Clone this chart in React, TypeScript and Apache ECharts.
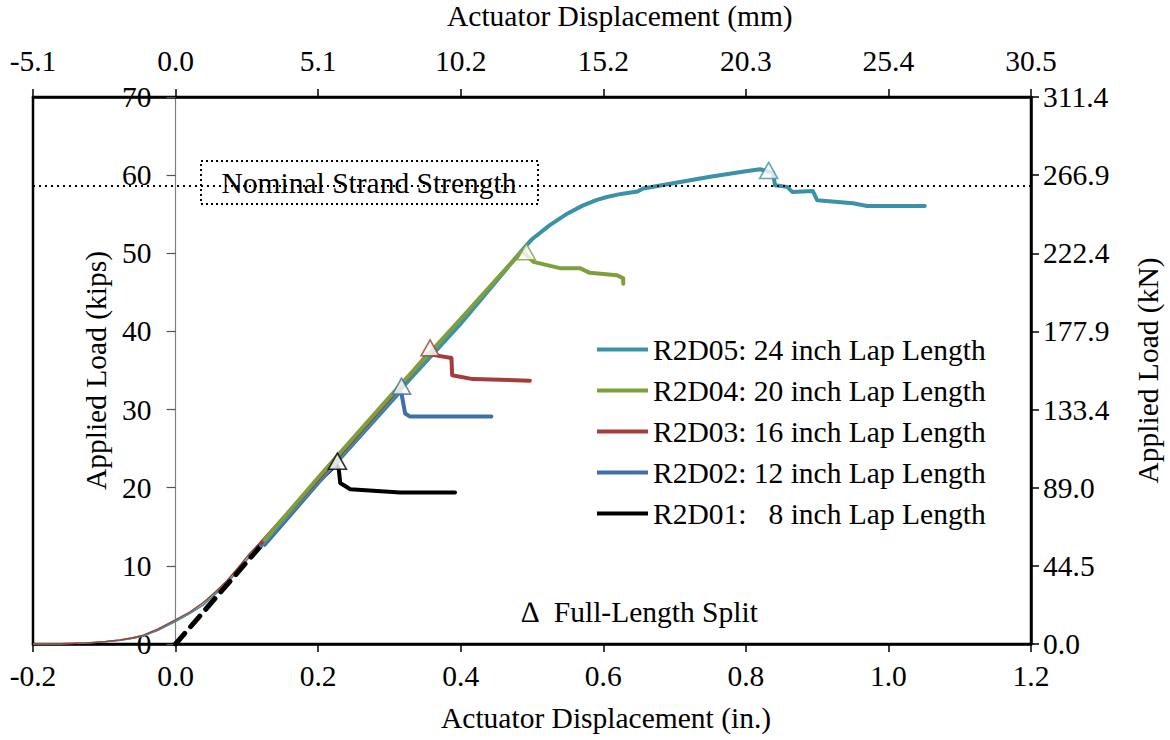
import React, { useEffect, useRef } from "react";
import * as echarts from "echarts";

// ---- data (displacement in inches, load in kips) ----
const COLOR_R2D05 = "#3b92a8";
const COLOR_R2D04 = "#7f9f3e";
const COLOR_R2D03 = "#a33c3a";
const COLOR_R2D02 = "#3f6ea8";
const COLOR_R2D01 = "#000000";

const NAME_R2D05 = "R2D05: 24 inch Lap Length";
const NAME_R2D04 = "R2D04: 20 inch Lap Length";
const NAME_R2D03 = "R2D03: 16 inch Lap Length";
const NAME_R2D02 = "R2D02: 12 inch Lap Length";
const NAME_R2D01 = "R2D01:   8 inch Lap Length";

// initial (seating) toe of the curves, drawn thin
const toeUpper = [
  [-0.2, 0], [-0.16, 0.03], [-0.125, 0.14], [-0.1, 0.3], [-0.078, 0.52],
  [-0.06, 0.8], [-0.045, 1.15], [-0.025, 1.9], [0, 3.1], [0.02, 4.1],
  [0.039, 5.3], [0.055, 6.6], [0.072, 8.1], [0.088, 9.8], [0.104, 11.6],
  [0.122, 13.3],
];
const toeLower = [
  [-0.2, 0], [-0.16, 0.02], [-0.125, 0.11], [-0.1, 0.26], [-0.078, 0.46],
  [-0.06, 0.72], [-0.045, 1.05], [-0.025, 1.75], [0, 2.9], [0.02, 3.9],
  [0.039, 5.0], [0.055, 6.3], [0.072, 7.8], [0.088, 9.4], [0.104, 11.2],
  [0.125, 13.1],
];

// linear extrapolation to origin for R2D01
const r2d01Extrap = [[0, 0], [0.118, 12.4]];

const r2d05 = [
  [0.12, 12.6], [0.2, 20.8], [0.3, 31.0], [0.4, 41.0], [0.49, 50.8],
  [0.5, 51.8], [0.525, 53.6], [0.55, 55.1], [0.571, 56.1], [0.59, 56.8],
  [0.605, 57.2], [0.625, 57.6], [0.641, 57.8], [0.648, 57.9], [0.656, 58.3],
  [0.7, 59.0], [0.75, 59.8], [0.8, 60.5], [0.82, 60.75], [0.838, 60.3],
  [0.841, 58.7], [0.858, 58.5], [0.865, 57.85], [0.894, 57.97], [0.9, 56.8],
  [0.95, 56.4], [0.97, 56.05], [1.051, 56.05],
];
const r2d04 = [
  [0.125, 13.3], [0.2, 21.3], [0.3, 31.6], [0.4, 41.6], [0.486, 50.3],
  [0.502, 48.9], [0.539, 48.1], [0.567, 48.1], [0.581, 47.5], [0.619, 47.2],
  [0.628, 46.8], [0.628, 46.1],
];
const r2d03 = [
  [0.12, 12.9], [0.2, 21.1], [0.3, 31.4], [0.354, 37.1], [0.361, 37.0],
  [0.387, 36.6], [0.388, 34.4], [0.417, 33.9], [0.497, 33.7],
];
const r2d02 = [
  [0.125, 12.7], [0.2, 20.6], [0.314, 32.2], [0.317, 32.0], [0.322, 29.5],
  [0.329, 29.1], [0.443, 29.1],
];
const r2d01 = [
  [0.118, 12.4], [0.2, 20.8], [0.226, 23.0], [0.229, 22.3], [0.231, 20.6],
  [0.245, 19.8], [0.315, 19.4], [0.392, 19.4],
];

// full-length split markers
const splitR2D05 = [[0.832, 60.6]];
const splitR2D04 = [[0.492, 50.2]];
const splitR2D03 = [[0.357, 37.9]];
const splitR2D02 = [[0.317, 33.0]];
const splitR2D01 = [[0.227, 23.4]];

const NOMINAL_STRENGTH = 58.6; // kips

const X_MIN = -0.2, X_MAX = 1.2, X_INT = 0.2;
const Y_MIN = 0, Y_MAX = 70, Y_INT = 10;
const IN_TO_MM = 25.4;
const KIP_TO_KN = 4.448;

const FONT = "'Liberation Serif', 'Times New Roman', serif";
const FS = 29.5;

const GRID_LEFT = 33, GRID_RIGHT = 139, GRID_TOP = 97, GRID_BOTTOM = 96;
const CHART_W = 1170;

export default function App() {
  const ref = useRef<HTMLDivElement>(null);

  useEffect(() => {
    const chart = echarts.init(ref.current!, null, { renderer: "svg" });

    const thick = (name: string, color: string, data: number[][], z = 3) => ({
      name, type: "line", data, color, showSymbol: false, symbol: "none", z,
      lineStyle: { color, width: 4, cap: "round", join: "round" },
    });
    const thin = (name: string, color: string, data: number[][]) => ({
      name, type: "line", data, color, showSymbol: false, symbol: "none", z: 2,
      lineStyle: { color, width: 1.3, join: "round" },
    });
    const split = (name: string, color: string, data: number[][]) => ({
      name, type: "scatter", data, symbol: "triangle", symbolSize: [18, 16], z: 5,
      itemStyle: { color: "#ffffff", borderColor: color, borderWidth: 1.6 },
    });

    const axisText = { color: "#000", fontFamily: FONT, fontSize: FS };

    // left axis sits on x = 0 (moved inward from the grid's left edge)
    const plotW = CHART_W - GRID_LEFT - GRID_RIGHT;
    const zeroOffset = (plotW * (0 - X_MIN)) / (X_MAX - X_MIN);

    chart.setOption({
      animation: false,
      backgroundColor: "#ffffff",
      textStyle: { fontFamily: FONT },
      grid: {
        left: GRID_LEFT, right: GRID_RIGHT, top: GRID_TOP, bottom: GRID_BOTTOM,
        containLabel: false, outerBoundsMode: "none",
        show: true, borderColor: "#000", borderWidth: 2.5, backgroundColor: "transparent",
      },
      xAxis: [
        {
          type: "value", position: "bottom", min: X_MIN, max: X_MAX, interval: X_INT,
          axisLine: { show: true, onZero: false, lineStyle: { color: "#000", width: 2.5 } },
          axisTick: { show: true, inside: false, length: 8, lineStyle: { color: "#000", width: 1.5 } },
          axisLabel: { ...axisText, margin: 17, formatter: (v: number) => (Math.abs(v) < 1e-9 ? 0 : v).toFixed(1) },
          splitLine: { show: false },
        },
        {
          type: "value", position: "top",
          min: X_MIN * IN_TO_MM, max: X_MAX * IN_TO_MM, interval: X_INT * IN_TO_MM,
          axisLine: { show: true, onZero: false, lineStyle: { color: "#000", width: 2.5 } },
          axisTick: { show: true, inside: false, length: 8, lineStyle: { color: "#000", width: 1.5 } },
          axisLabel: { ...axisText, margin: 21, formatter: (v: number) => (Math.abs(v) < 1e-9 ? 0 : v).toFixed(1) },
          splitLine: { show: false },
        },
      ],
      yAxis: [
        {
          type: "value", position: "left", offset: -zeroOffset,
          min: Y_MIN, max: Y_MAX, interval: Y_INT,
          name: "Applied Load (kips)", nameLocation: "middle", nameGap: 64,
          nameTextStyle: { ...axisText },
          axisLine: { show: true, onZero: false, lineStyle: { color: "#808080", width: 1.2 } },
          axisTick: { show: true, inside: false, length: 9, lineStyle: { color: "#555", width: 1.2 } },
          axisLabel: { ...axisText, margin: 24 },
          splitLine: { show: false },
        },
        {
          type: "value", position: "right",
          min: Y_MIN * KIP_TO_KN, max: Y_MAX * KIP_TO_KN, interval: Y_INT * KIP_TO_KN,
          name: "Applied Load (kN)", nameLocation: "middle", nameGap: 102,
          nameTextStyle: { ...axisText },
          axisLine: { show: true, onZero: false, lineStyle: { color: "#000", width: 2.5 } },
          axisTick: { show: true, inside: false, length: 8, lineStyle: { color: "#000", width: 1.5 } },
          axisLabel: { ...axisText, margin: 12, formatter: (v: number) => v.toFixed(1) },
          splitLine: { show: false },
        },
      ],
      legend: {
        orient: "vertical", left: 597, top: 334, padding: 0,
        data: [NAME_R2D05, NAME_R2D04, NAME_R2D03, NAME_R2D02, NAME_R2D01],
        icon: "rect", itemWidth: 51, itemHeight: 4, itemGap: 10,
        textStyle: { ...axisText, lineHeight: 31 },
        selectedMode: false,
      },
      graphic: [
        {
          type: "group", left: 200, top: 160, z: 10,
          children: [
            {
              type: "rect", shape: { x: 0, y: 0, width: 337, height: 43 },
              style: { fill: "#ffffff", stroke: "#000", lineWidth: 2, lineDash: [2, 3] },
            },
            {
              type: "text", x: 168, y: 22,
              style: { text: "Nominal Strand Strength", fill: "#000", font: `${FS}px ${FONT}`, align: "center", verticalAlign: "middle" },
            },
          ],
        },
        {
          type: "text", left: 521, top: 597, z: 10,
          style: { text: "∆  Full-Length Split", fill: "#000", font: `${FS}px ${FONT}` },
        },
        {
          type: "text", left: 441, top: 703, z: 10,
          style: { text: "Actuator Displacement (in.)", fill: "#000", font: `${FS}px ${FONT}` },
        },
        {
          type: "text", left: 447, top: 1, z: 10,
          style: { text: "Actuator Displacement (mm)", fill: "#000", font: `${FS}px ${FONT}` },
        },
      ],
      series: [
        thin("toe R2D02", COLOR_R2D02, toeLower),
        thin("toe R2D05", COLOR_R2D05, toeLower),
        thin("toe R2D04", COLOR_R2D04, toeUpper),
        thin("toe R2D03", COLOR_R2D03, toeUpper),
        {
          name: "R2D01 extrapolation", type: "line", data: r2d01Extrap, showSymbol: false, symbol: "none", z: 3,
          lineStyle: { color: "#000", width: 5, type: [14, 9], cap: "round" },
        },
        thick(NAME_R2D01, COLOR_R2D01, r2d01),
        thick(NAME_R2D02, COLOR_R2D02, r2d02),
        thick(NAME_R2D05, COLOR_R2D05, r2d05),
        thick(NAME_R2D03, COLOR_R2D03, r2d03),
        {
          ...thick(NAME_R2D04, COLOR_R2D04, r2d04),
          markLine: {
            silent: true, symbol: "none", label: { show: false },
            lineStyle: { color: "#000", width: 2, type: [2, 4] },
            data: [{ yAxis: NOMINAL_STRENGTH }],
          },
        },
        split("split R2D05", COLOR_R2D05, splitR2D05),
        split("split R2D04", COLOR_R2D04, splitR2D04),
        split("split R2D03", COLOR_R2D03, splitR2D03),
        split("split R2D02", COLOR_R2D02, splitR2D02),
        split("split R2D01", COLOR_R2D01, splitR2D01),
      ],
    });

    return () => chart.dispose();
  }, []);

  return (
    <div
      ref={ref}
      style={{ position: "fixed", left: 0, top: 0, width: CHART_W, height: 740, background: "#fff" }}
    />
  );
}
